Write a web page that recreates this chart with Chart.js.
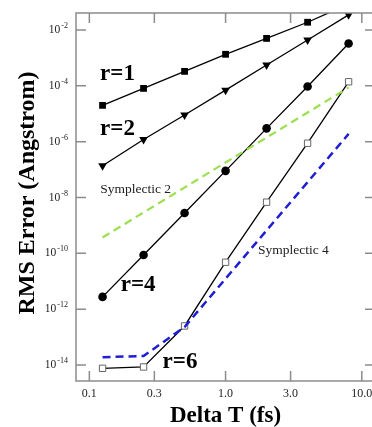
<!DOCTYPE html>
<html>
<head>
<meta charset="utf-8">
<script src="https://cdn.jsdelivr.net/npm/chart.js@4"></script>
<style>
  html, body { margin: 0; padding: 0; background: #fff; overflow: hidden; }
  /* the right frame of the original figure is cut off, so the canvas is a bit wider than the window */
  #wrap { width: 376px; height: 427px; }
</style>
</head>
<body>
<div id="wrap"><canvas id="rms-chart" width="376" height="427"></canvas></div>
<script>
let dt = [0.125, 0.25, 0.5, 1, 2, 4, 8];
let errR1 = [2.0e-5, 8.1e-5, 3.3e-4, 1.35e-3, 5.0e-3, 1.9e-2, 8.5e-2];
let errR2 = [1.37e-7, 1.2e-6, 9.0e-6, 7.0e-5, 5.6e-4, 4.4e-3, 3.5e-2];
let errR4 = [2.75e-12, 8.7e-11, 2.8e-9, 9.0e-8, 3.0e-6, 9.5e-5, 3.3e-3];
let errR6 = [7.6e-15, 8.5e-15, 2.5e-13, 4.8e-11, 6.8e-9, 8.8e-7, 1.4e-4];

let sym2Dt = [0.125, 8];
let sym2Err = [3.7e-10, 8.7e-5];
let sym4Dt = [0.125, 0.25, 0.5, 8];
let sym4Err = [1.9e-14, 2.1e-14, 2.3e-13, 1.9e-6];

let xTicks = [0.1, 0.3, 1, 3, 10];
let xTickLabels = ['0.1', '0.3', '1.0', '3.0', '10.0'];
let yTicks = [1e-14, 1e-12, 1e-10, 1e-8, 1e-6, 1e-4, 1e-2];

const serif = "'Liberation Serif', 'Times New Roman', serif";

// text labels placed in data coordinates
const notes = [
  { text: 'r=1', x: 0.161, y: 2.65e-4, font: 'bold 23px ' + serif, align: 'center' },
  { text: 'r=2', x: 0.161, y: 2.85e-6, font: 'bold 23px ' + serif, align: 'center' },
  { text: 'r=4', x: 0.228, y: 7.06e-12, font: 'bold 23px ' + serif, align: 'center' },
  { text: 'r=6', x: 0.463, y: 1.23e-14, font: 'bold 23px ' + serif, align: 'center' },
  { text: 'Symplectic 2', x: 0.12, y: 1.94e-8, font: '13.5px ' + serif, align: 'left' },
  { text: 'Symplectic 4', x: 1.73, y: 1.24e-10, font: '13.5px ' + serif, align: 'left' }
];

function pairs(xs, ys) {
  return xs.map((v, i) => ({ x: v, y: ys[i] }));
}

const frameAndText = {
  id: 'frameAndText',
  afterDraw(chart) {
    const { ctx, chartArea: a } = chart;
    const x = chart.scales.x, y = chart.scales.y;
    ctx.save();

    // box + inward ticks
    ctx.strokeStyle = '#8c8c8c';
    ctx.lineWidth = 1.5;
    ctx.strokeRect(a.left, a.top, a.right - a.left, a.bottom - a.top);
    ctx.beginPath();
    xTicks.forEach(v => {
      const px = x.getPixelForValue(v);
      ctx.moveTo(px, a.bottom); ctx.lineTo(px, a.bottom - 10);
      ctx.moveTo(px, a.top); ctx.lineTo(px, a.top + 10);
    });
    yTicks.forEach(v => {
      const py = y.getPixelForValue(v);
      ctx.moveTo(a.left, py); ctx.lineTo(a.left + 10, py);
      ctx.moveTo(a.right, py); ctx.lineTo(a.right - 10, py);
    });
    ctx.stroke();

    ctx.fillStyle = '#222';
    // x tick labels
    ctx.font = '12px ' + serif;
    ctx.textAlign = 'center';
    ctx.textBaseline = 'middle';
    xTicks.forEach((v, i) => {
      ctx.fillText(xTickLabels[i], x.getPixelForValue(v), a.bottom + 13);
    });

    // y tick labels as 10 with a raised exponent
    yTicks.forEach(v => {
      const py = y.getPixelForValue(v);
      const exp = '-' + Math.round(-Math.log10(v));
      ctx.font = '8px ' + serif;
      const ew = ctx.measureText(exp).width;
      ctx.textAlign = 'left';
      ctx.fillText(exp, a.left - 8 - ew, py - 4);
      ctx.font = '11.5px ' + serif;
      ctx.textAlign = 'right';
      ctx.fillText('10', a.left - 9 - ew, py);
    });

    // axis titles
    ctx.fillStyle = '#000';
    ctx.font = 'bold 23px ' + serif;
    ctx.textAlign = 'center';
    ctx.fillText('Delta T (fs)', (a.left + a.right) / 2, a.bottom + 35);
    ctx.save();
    ctx.translate(28, (a.top + a.bottom) / 2 - 4);
    ctx.rotate(-Math.PI / 2);
    ctx.font = 'bold 24px ' + serif;
    ctx.fillText('RMS Error (Angstrom)', 0, 0);
    ctx.restore();

    // curve labels
    notes.forEach(n => {
      ctx.font = n.font;
      ctx.textAlign = n.align;
      ctx.fillStyle = n.font.startsWith('bold') ? '#000' : '#222';
      ctx.fillText(n.text, x.getPixelForValue(n.x), y.getPixelForValue(n.y));
    });
    ctx.restore();
  }
};

window.addEventListener('DOMContentLoaded', () => {
  const box = document.getElementById('rms-chart');
  new Chart(box, {
    type: 'line',
    data: {
      datasets: [
        {
          label: 'Symplectic 2',
          data: pairs(sym2Dt, sym2Err),
          borderColor: '#9be04f',
          borderWidth: 2.2,
          borderDash: [8, 5],
          pointRadius: 0
        },
        {
          label: 'Symplectic 4',
          data: pairs(sym4Dt, sym4Err),
          borderColor: '#1e1ed2',
          borderWidth: 2.5,
          borderDash: [8, 5],
          pointRadius: 0
        },
        {
          label: 'r=1',
          data: pairs(dt, errR1),
          borderColor: '#000',
          borderWidth: 1.3,
          pointStyle: 'rect',
          pointRadius: 4.8,
          pointBackgroundColor: '#000',
          pointBorderWidth: 0
        },
        {
          label: 'r=2',
          data: pairs(dt, errR2),
          borderColor: '#000',
          borderWidth: 1.3,
          pointStyle: 'triangle',
          rotation: 180,
          pointRadius: 5,
          pointBackgroundColor: '#000',
          pointBorderWidth: 0
        },
        {
          label: 'r=4',
          data: pairs(dt, errR4),
          borderColor: '#000',
          borderWidth: 1.3,
          pointStyle: 'circle',
          pointRadius: 4.3,
          pointBackgroundColor: '#000',
          pointBorderWidth: 0
        },
        {
          label: 'r=6',
          data: pairs(dt, errR6),
          borderColor: '#000',
          borderWidth: 1.3,
          pointStyle: 'rect',
          pointRadius: 4.5,
          pointBackgroundColor: '#fff',
          pointBorderColor: '#666',
          pointBorderWidth: 1
        }
      ]
    },
    options: {
      responsive: false,
      animation: false,
      layout: { autoPadding: false, padding: { top: 13, right: 1, left: 0, bottom: 0 } },
      plugins: {
        legend: { display: false },
        tooltip: { enabled: false }
      },
      scales: {
        x: {
          type: 'logarithmic',
          bounds: 'data',
          min: 0.0798,
          max: 12.5,
          grid: { display: false },
          border: { display: false },
          ticks: { display: false },
          afterFit: s => { s.height = 46; }
        },
        y: {
          type: 'logarithmic',
          bounds: 'data',
          min: 2.67e-15,
          max: 0.0407,
          grid: { display: false },
          border: { display: false },
          ticks: { display: false },
          afterFit: s => { s.width = 76; }
        }
      }
    },
    plugins: [frameAndText]
  });
});
</script>
</body>
</html>
